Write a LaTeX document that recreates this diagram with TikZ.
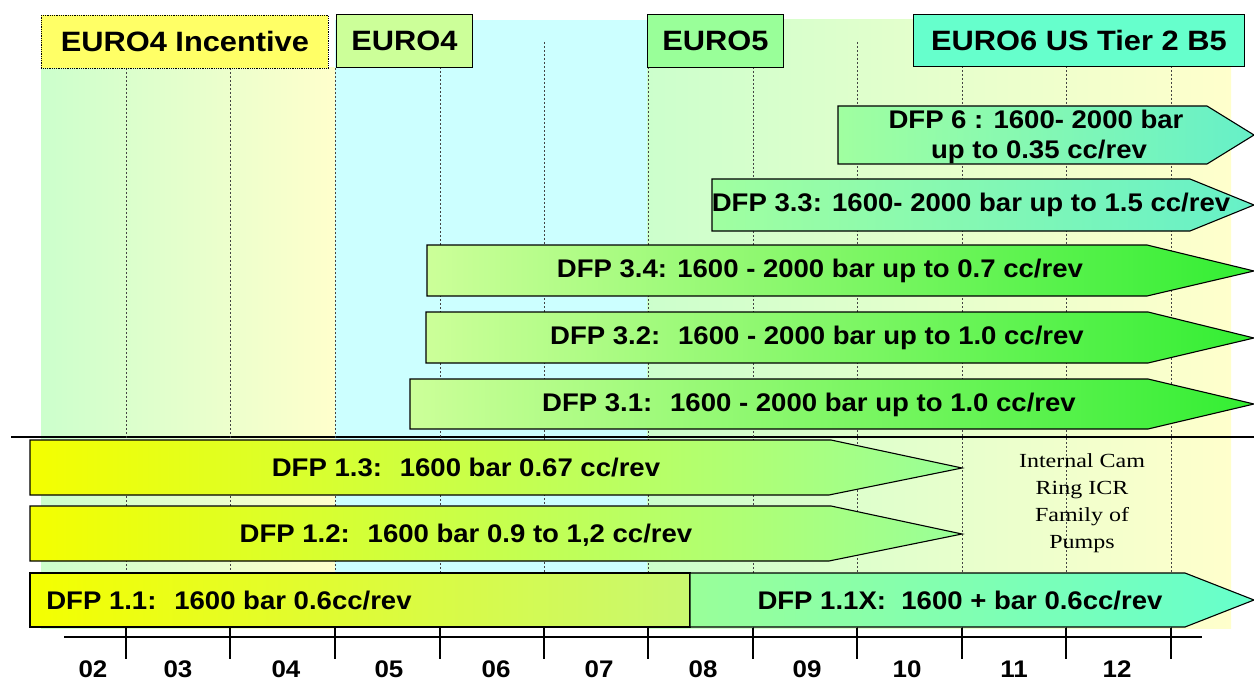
\documentclass[tikz,border=0pt]{standalone}
\usepackage{fontspec}
\setmainfont{Liberation Sans}
\newfontfamily\hdfont{Liberation Sans}[FakeStretch=1.1]
\newfontfamily\bfont{Liberation Sans}[FakeStretch=1.08]
\newfontfamily\sfont{Liberation Serif}[FakeStretch=1.2]
\definecolor{hYel}{HTML}{FFFF66}
\definecolor{hLG}{HTML}{CCFF99}
\definecolor{hG}{HTML}{99FF99}
\definecolor{hAq}{HTML}{66FFCC}
\definecolor{bgG}{HTML}{CCFFCC}
\definecolor{bgY}{HTML}{FFFFCC}
\definecolor{bgC}{HTML}{CCFFFF}
\definecolor{brG}{HTML}{33EE33}
\definecolor{pYel}{HTML}{F4FF00}
\definecolor{pLG}{HTML}{A0FFA0}
\definecolor{pAq}{HTML}{66F0C8}
\definecolor{pYG}{HTML}{C8F870}
\definecolor{gridc}{HTML}{444444}
\begin{document}
\begin{tikzpicture}[x=1pt,y=-1pt,
  hdr/.style={draw=black, line width=0.8pt, minimum height=53pt, inner sep=0pt, anchor=north west, font=\hdfont\bfseries\fontsize{28}{30}\selectfont},
  gridline/.style={draw=gridc, line width=0.8pt, dash pattern=on 2pt off 2pt},
  barout/.style={draw=black, line width=1.1pt},
  bt/.style={font=\bfont\bfseries\fontsize{25.5}{32}\selectfont, inner sep=0pt, align=center},
  yr/.style={font=\bfont\bfseries\fontsize{24}{26}\selectfont, inner sep=0pt},
  axisline/.style={draw=black, line width=2pt}
]
\useasboundingbox (0,0) rectangle (1254,682);
\fill[white] (0,0) rectangle (1254,682);
% background bands
\shade[left color=bgG, right color=bgY] (41,68) rectangle (335,628);
\fill[bgC] (335,20) rectangle (647,628);
\shade[left color=bgG, right color=bgY] (647,20) rectangle (1231,628);
% separator
\draw[line width=1.2pt] (11,437) -- (1254,437);
% year grid
\foreach \x/\y in {126/68,230/68,335/68,440/67,544/42,648/67,753/67,857/42,962/66,1066/66,1171/66}
  \draw[gridline] (\x,\y) -- (\x,628);
% headers
\node[hdr, densely dotted, fill=hYel, minimum width=287pt] (h4i) at (41,15) {EURO4 Incentive};
\node[hdr, fill=hLG, minimum width=136pt] (h4) at (336,14) {EURO4};
\node[hdr, fill=hG, minimum width=136pt] (h5) at (647,14) {EURO5};
\node[hdr, fill=hAq, minimum width=331pt, minimum height=52pt] (h6) at (913,14) {EURO6 US Tier 2 B5};
% upper bars
\shadedraw[barout, left color=pLG, right color=pAq] (838,106) -- (1207,106) -- (1254,135) -- (1207,164) -- (838,164) -- cycle;
\node[bt] (dfp6a) at (1036,119) {DFP 6 : 1600- 2000 bar};
\node[bt] (dfp6b) at (1039,152) {up to 0.35 cc/rev};
\shadedraw[barout, left color=pLG, right color=pAq] (712,179) -- (1190,179) -- (1254,205) -- (1190,231) -- (712,231) -- cycle;
\node[bt] (dfp33) at (971,205) {DFP 3.3: 1600- 2000 bar up to 1.5 cc/rev};
\shadedraw[barout, left color=hLG, right color=brG] (427,245) -- (1147,245) -- (1254,271) -- (1147,296) -- (427,296) -- cycle;
\node[bt] (dfp34) at (820,271) {DFP 3.4: 1600 - 2000 bar up to 0.7 cc/rev};
\shadedraw[barout, left color=hLG, right color=brG] (426,312) -- (1148,312) -- (1254,338) -- (1148,363) -- (426,363) -- cycle;
\node[bt] (dfp32) at (817,338) {DFP 3.2:~ 1600 - 2000 bar up to 1.0 cc/rev};
\shadedraw[barout, left color=hLG, right color=brG] (410,379) -- (1148,379) -- (1254,404) -- (1148,429) -- (410,429) -- cycle;
\node[bt] (dfp31) at (809,405) {DFP 3.1:~ 1600 - 2000 bar up to 1.0 cc/rev};
% lower bars
\shadedraw[barout, left color=pYel, right color=hG] (30,440) -- (831,440) -- (962,468) -- (829,495) -- (30,495) -- cycle;
\node[bt] (dfp13) at (466,468) {DFP 1.3:~ 1600 bar 0.67 cc/rev};
\shadedraw[barout, left color=pYel, right color=hG] (30,506) -- (831,506) -- (962,534) -- (829,561) -- (30,561) -- cycle;
\node[bt] (dfp12) at (466,535) {DFP 1.2:~ 1600 bar 0.9 to 1,2 cc/rev};
\shadedraw[barout, left color=pYel, right color=pYG] (30,573) rectangle (690,627);
\node[bt] (dfp11) at (229,601) {DFP 1.1:~ 1600 bar 0.6cc/rev};
\shadedraw[barout, left color=hG, right color=hAq] (690,573) -- (1185,573) -- (1254,600) -- (1185,627) -- (690,627) -- cycle;
\node[bt] (dfp11x) at (960,601) {DFP 1.1X:~ 1600 + bar 0.6cc/rev};
% ICR note
\node[font=\sfont\fontsize{20}{27}\selectfont, align=center, inner sep=0pt] (icr) at (1082,503) {Internal Cam\\Ring ICR\\Family of\\Pumps};
% axis
\draw[axisline] (64,637) -- (1202,637);
\foreach \x in {126,230,335,440,544,648,753,857,962,1066,1171}
  \draw[axisline] (\x,628) -- (\x,659);
\foreach \n/\x in {02/93,03/178,04/286,05/389,06/496,07/599,08/703,09/807,10/907,11/1014,12/1117}
  \node[yr] (y\n) at (\x,669) {\n};
\end{tikzpicture}
\end{document}
